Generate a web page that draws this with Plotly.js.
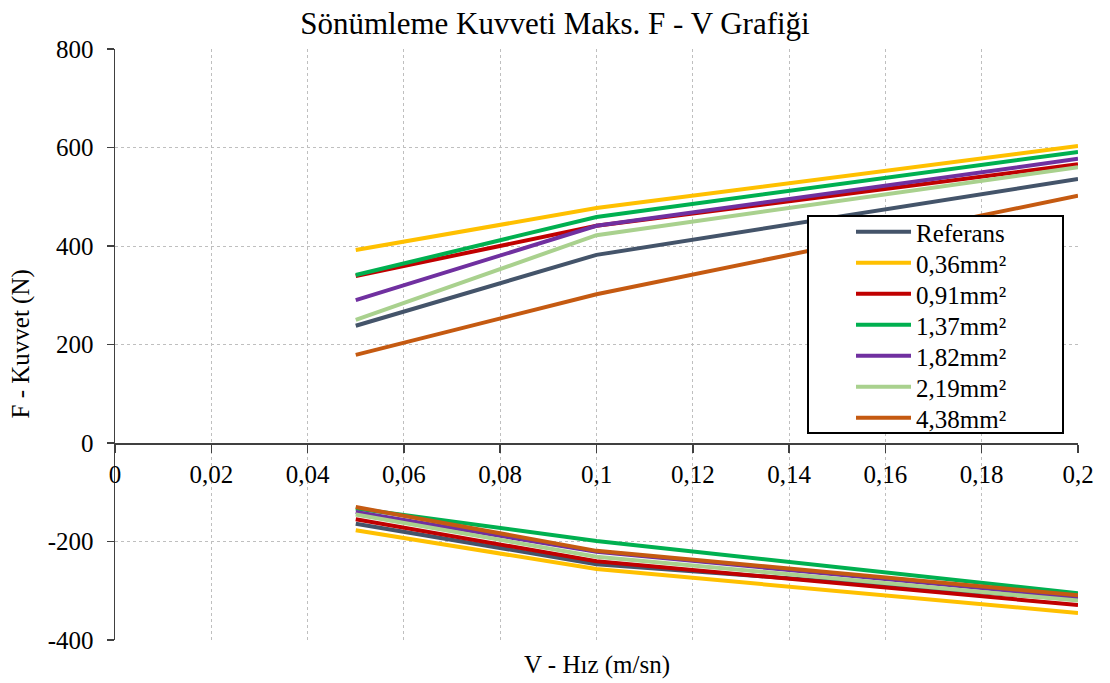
<!DOCTYPE html>
<html>
<head>
<meta charset="utf-8">
<script src="https://cdn.plot.ly/plotly-3.0.1.min.js"></script>
<style>html,body{margin:0;padding:0;background:#fff;}#chart{width:1110px;height:683px;}</style>
</head>
<body>
<div id="chart"></div>
<script>
// Velocities (m/sn)
const velocities = [0.05, 0.1, 0.2];
// Series names
const seriesNames = ["Referans", "0,36mm²", "0,91mm²", "1,37mm²", "1,82mm²", "2,19mm²", "4,38mm²"];
// Positive (rebound) force values (N)
const posReferans = [238, 382, 536];
const pos036 = [392, 477, 603];
const pos091 = [339, 441, 566];
const pos137 = [341, 459, 591];
const pos182 = [290, 441, 577];
const pos219 = [250, 422, 560];
const pos438 = [179, 302, 502];
// Negative (compression) force values (N)
const negReferans = [-164, -246, -318];
const neg036 = [-177, -256, -345];
const neg091 = [-155, -240, -329];
const neg137 = [-133, -199, -305];
const neg182 = [-140, -221, -313];
const neg219 = [-145, -231, -320];
const neg438 = [-130, -219, -309];
// Tick values / labels
const xTickVals = [0, 0.02, 0.04, 0.06, 0.08, 0.1, 0.12, 0.14, 0.16, 0.18, 0.2];
const xTickText = ["0", "0,02", "0,04", "0,06", "0,08", "0,1", "0,12", "0,14", "0,16", "0,18", "0,2"];
const yTickVals = [-400, -200, 0, 200, 400, 600, 800];
const yTickText = ["-400", "-200", "0", "200", "400", "600", "800"];

const colors = ["#44546A", "#FFC000", "#C00000", "#00B050", "#7030A0", "#A9D18E", "#C55A11"];
const posAll = [posReferans, pos036, pos091, pos137, pos182, pos219, pos438];
const negAll = [negReferans, neg036, neg091, neg137, neg182, neg219, neg438];

const legendIds = seriesNames.map((_, i) => i === 0 ? 'legend' : 'legend' + (i + 1));

const traces = seriesNames.map((name, i) => ({
  type: 'scatter',
  mode: 'lines',
  name: name,
  x: velocities.concat([null], velocities),
  y: posAll[i].concat([null], negAll[i]),
  connectgaps: false,
  line: {color: colors[i], width: 4},
  legend: legendIds[i],
  hoverinfo: 'x+y+name'
}));

const font = {family: '"Liberation Serif", "Times New Roman", serif', color: '#000'};
const PW = 963, PH = 591, PL = 115, PB = 640;
const px = v => (v - PL) / PW;
const py = v => (PB - v) / PH;

const layout = {
  width: 1110, height: 683,
  paper_bgcolor: '#fff', plot_bgcolor: '#fff',
  margin: {l: 115, r: 32, t: 49, b: 43},
  font: Object.assign({size: 25}, font),
  title: {text: 'Sönümleme Kuvveti Maks. F - V Grafiği', x: 0.5, xref: 'container', xanchor: 'center',
          y: 1 - 23/683, yref: 'container', yanchor: 'middle', font: Object.assign({size: 31}, font)},
  xaxis: {
    range: [0, 0.2], tickmode: 'array', tickvals: xTickVals, ticktext: xTickText,
    anchor: 'free', position: 1/3,
    showline: true, linecolor: '#404040', linewidth: 1.5,
    ticks: 'outside', ticklen: 8, tickcolor: '#404040', tickwidth: 1.5,
    showgrid: true, gridcolor: '#BFBFBF', griddash: 'dot', gridwidth: 1,
    zeroline: false, tickfont: Object.assign({size: 25}, font), fixedrange: true
  },
  yaxis: {
    range: [-400, 800], tickmode: 'array', tickvals: yTickVals, ticktext: yTickText,
    showline: true, linecolor: '#404040', linewidth: 1.5,
    ticks: 'outside', ticklen: 7, tickcolor: '#404040', tickwidth: 1.5,
    showgrid: true, gridcolor: '#BFBFBF', griddash: 'dot', gridwidth: 1,
    zeroline: false, tickfont: Object.assign({size: 25}, font), fixedrange: true,
    ticklabelstandoff: 8
  },
  shapes: [
    {type: 'rect', xref: 'paper', yref: 'paper', layer: 'above',
     x0: px(808), x1: px(1063), y0: py(433), y1: py(216),
     fillcolor: '#fff', line: {color: '#000', width: 2}}
  ],
  showlegend: true,
  annotations: [
    {text: 'V - Hız (m/sn)', xref: 'paper', yref: 'paper', x: 0.5, y: -(665 - 640) / 591,
     xanchor: 'center', yanchor: 'middle', showarrow: false, font: Object.assign({size: 25}, font)},
    {text: 'F - Kuvvet (N)', xref: 'paper', yref: 'paper', x: -(115 - 20) / 963, y: 0.5,
     xanchor: 'center', yanchor: 'middle', textangle: -90, showarrow: false, font: Object.assign({size: 25}, font)}
  ]
};

legendIds.forEach((id, i) => {
  layout[id] = {
    x: px(851), y: py(232 + 31 * i), xanchor: 'left', yanchor: 'middle',
    bgcolor: 'rgba(0,0,0,0)', borderwidth: 0,
    font: Object.assign({size: 25}, font), itemwidth: 55
  };
});

Plotly.newPlot('chart', traces, layout, {displayModeBar: false, staticPlot: true});
</script>
</body>
</html>
